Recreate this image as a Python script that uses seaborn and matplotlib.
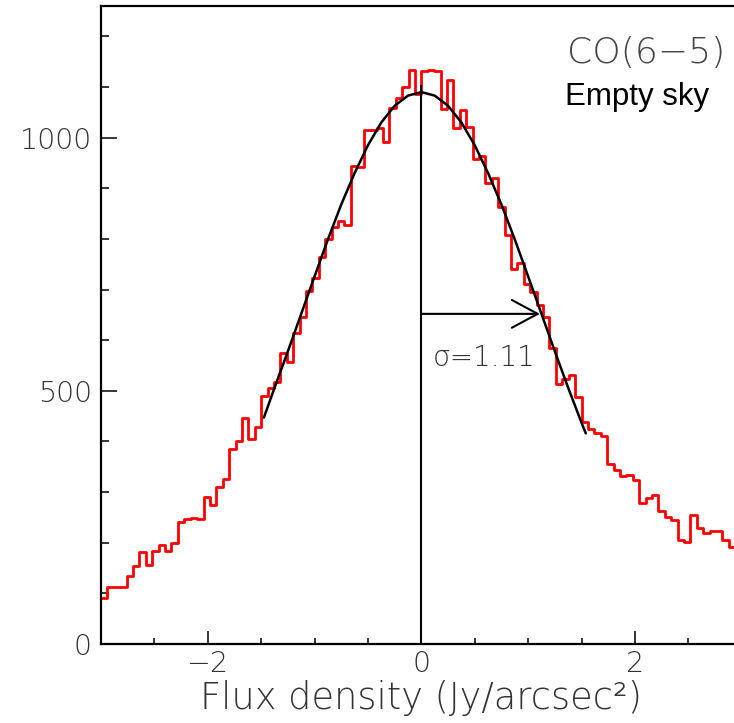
import numpy as np
import pandas as pd
import matplotlib
matplotlib.use("Agg")
import matplotlib.pyplot as plt
import matplotlib.font_manager as fm
from matplotlib.ticker import MultipleLocator
import seaborn as sns

# ---------------- data ----------------
counts = [91, 113, 112, 112, 135, 154, 182, 156, 184, 195,
          184, 199, 241, 247, 249, 247, 291, 275, 311, 325,
          385, 401, 446, 404, 429, 490, 506, 518, 575, 556,
          614, 646, 698, 722, 765, 800, 824, 836, 828, 944,
          942, 1015, 1015, 1020, 992, 1059, 1078, 1101, 1133, 1087,
          1131, 1134, 1131, 1056, 1114, 1020, 1054, 1022, 957, 963,
          910, 921, 864, 808, 740, 752, 710, 695, 670, 646,
          584, 514, 524, 531, 487, 439, 424, 416, 410, 355,
          344, 331, 334, 324, 278, 288, 294, 263, 250, 245,
          205, 201, 255, 230, 219, 224, 224, 206, 191, 188]
flux_min, flux_max, n_bins = -3.0, 3.0, 100

fit_x = [-1.475, -1.375, -1.25, -1.125, -1.0, -0.875, -0.75, -0.625, -0.5,
         -0.375, -0.25, -0.125, 0.0, 0.125, 0.25, 0.375, 0.5, 0.625, 0.75,
         0.875, 1.0, 1.125, 1.25, 1.375, 1.5, 1.54]
fit_y = [447, 506, 578, 652, 726, 799, 868, 930, 985, 1030, 1063, 1083, 1090,
         1083, 1063, 1030, 985, 930, 868, 799, 726, 652, 578, 506, 437, 416]

sigma_value = 1.11
arrow_level = 652
center_line_top = 1103

line_label = "CO(6\u22125)"
region_label = "Empty sky"
sigma_text = "\u03c3=1.11"
x_label = "Flux density (Jy/arcsec\u00b2)"


# ---------------- fonts ----------------
def pick_light():
    prefs = ["DejaVu Sans", "Roboto", "Open Sans", "Lato", "Noto Sans"]
    for fam in prefs:
        cands = [f for f in fm.fontManager.ttflist
                 if f.name == fam and f.style == "normal"
                 and isinstance(f.weight, (int, float)) and f.weight < 400]
        if cands:
            c = sorted(cands, key=lambda f: abs(f.weight - 250))[0]
            return fam, int(c.weight)
    return "DejaVu Sans", "normal"


sns.set_style("ticks")
light_fam, light_w = pick_light()
plt.rcParams["font.family"] = [light_fam, "DejaVu Sans"]
plt.rcParams["font.weight"] = light_w
plt.rcParams["axes.labelweight"] = light_w
txt_color = "#333333"

bin_width = (flux_max - flux_min) / n_bins
centers = flux_min + bin_width * (np.arange(n_bins) + 0.5)
df = pd.DataFrame({"flux": centers, "count": counts})

fig = plt.figure(figsize=(7.34, 7.23), dpi=100)
ax = fig.add_axes([101 / 734, 1 - 644 / 723, 640.7 / 734, 638 / 723])

sns.histplot(data=df, x="flux", weights="count", bins=n_bins,
             binrange=(flux_min, flux_max), element="step",
             fill=False, color="#ff0000", linewidth=2.0, ax=ax)
sns.lineplot(x=fit_x, y=fit_y, color="black", linewidth=1.8, ax=ax, sort=False)
ax.vlines(0, 0, center_line_top, color="black", linewidth=1.5)
ax.annotate("", xy=(sigma_value, arrow_level), xytext=(0, arrow_level),
            arrowprops=dict(arrowstyle="->,head_length=0.93,head_width=0.5",
                            mutation_scale=20, lw=1.5, color="black",
                            shrinkA=0, shrinkB=0))
ax.text(0.105, 550, sigma_text, fontsize=20, color=txt_color, va="baseline",
        ha="left", fontweight=light_w)

ax.set_xlim(flux_min, flux_max)
ax.set_ylim(0, 1260)
ax.xaxis.set_major_locator(MultipleLocator(2))
ax.xaxis.set_minor_locator(MultipleLocator(0.5))
ax.yaxis.set_major_locator(MultipleLocator(500))
ax.yaxis.set_minor_locator(MultipleLocator(100))
ax.tick_params(axis="both", which="both", direction="in", top=False, right=False,
               width=1.1, color="black", labelcolor=txt_color, labelsize=20.5)
ax.tick_params(axis="y", which="major", length=11.5, pad=6.5)
ax.tick_params(axis="y", which="minor", length=5.8)
ax.tick_params(axis="x", which="major", length=9.5, pad=4)
ax.tick_params(axis="x", which="minor", length=4)
for sp in ax.spines.values():
    sp.set_visible(True)
    sp.set_linewidth(1.6)
    sp.set_color("black")

ax.set_ylabel("")
ax.set_xlabel(x_label, fontsize=26.5, color=txt_color, labelpad=2,
              fontweight=light_w)

fig.text(567 / 734, 1 - 63 / 723, line_label, fontsize=26, color="#444444",
         ha="left", va="baseline", fontweight=light_w)
fig.text(565 / 734, 1 - 105 / 723, region_label, fontsize=22.5, color="black",
         family="Liberation Sans", fontweight="normal", ha="left", va="baseline")

fig.savefig("out.png", dpi=100)
